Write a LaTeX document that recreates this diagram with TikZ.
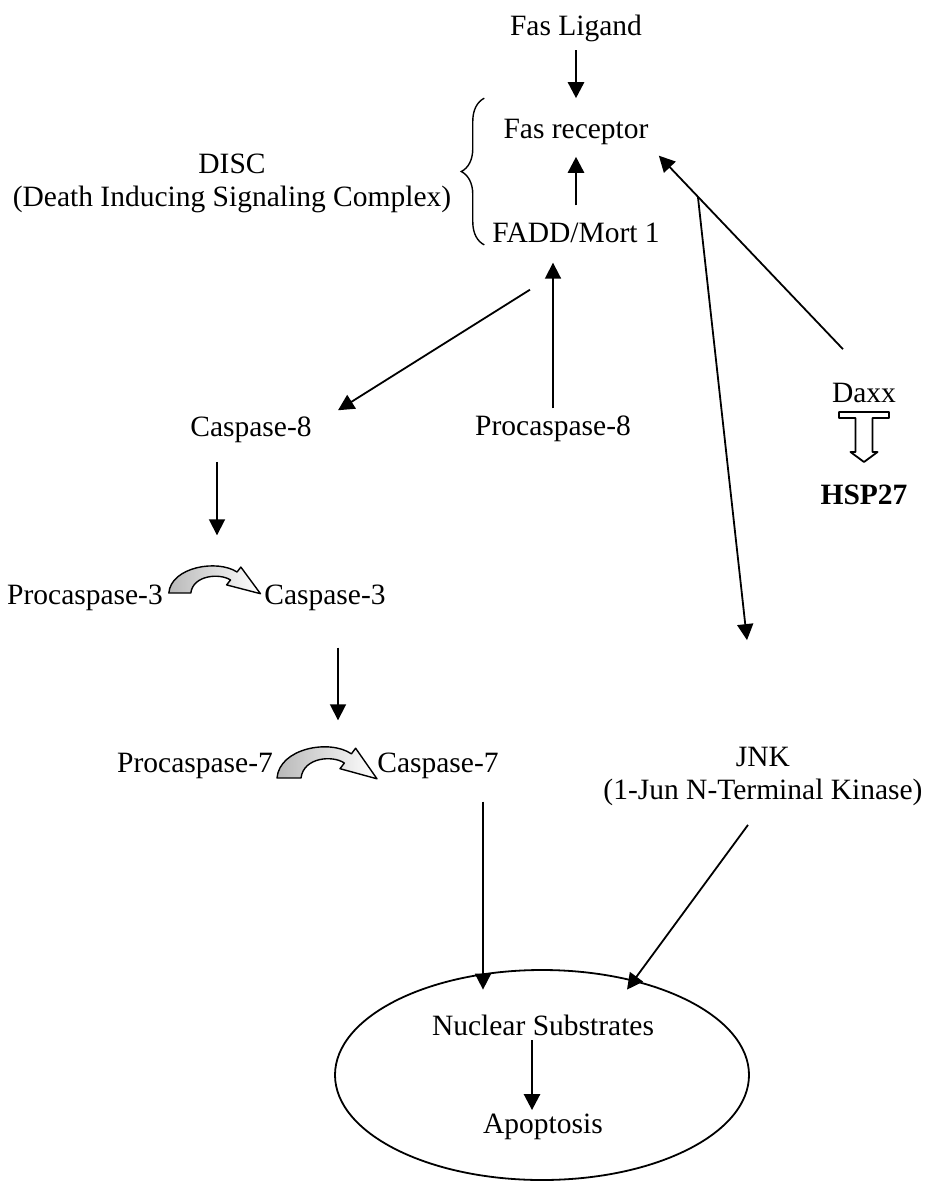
\documentclass[tikz,border=0pt]{standalone}
\usepackage{fontspec}
\setmainfont{Liberation Serif}
\usetikzlibrary{
	arrows.meta,
	calc,
	decorations.pathreplacing,
	positioning,
	shapes.geometric
}
\tikzset{
	arr/.style={-{Triangle[length=8pt, width=8pt]}, line width=0.9pt},
	thickarr/.style={arr, line width=1.3pt},
	protein/.style={inner sep=0pt, outer sep=0pt, align=center, font=\fontsize{14.75pt}{16.5pt}\selectfont},
	discbrace/.style={decorate, decoration={brace, amplitude=11.5pt}, line width=0.7pt},
	blockarrow/.style={draw, fill=white, line width=0.9pt, line join=round},
	cleave/.pic={
		\draw[line width=0.7pt, line join=round, left color=gray!55, right color=white]
			(0,0) .. controls (1,-13) and (22,-17) .. (31,-10.5)
			-- (32.75,-12.96) -- (41.65,0.35) -- (26.25,-4.05) -- (28.05,-6.5)
			.. controls (23.2,-10.04) and (11,-9) .. (10,0) -- cycle;
	}
}

\begin{document}
\begin{tikzpicture}[x=1pt, y=-1pt, on grid]
	\useasboundingbox (0,0) rectangle (462.5,591);

	\node[protein] (ligand) at (288,14) {Fas Ligand};
	\node[protein, below = 52pt of ligand] (receptor) {Fas receptor};
	\node[protein, below = 50.5pt of receptor] (fadd) {FADD/Mort 1};
	\node[protein] (disc) at (116,91.75) {DISC\\(Death Inducing Signaling Complex)};
	\node[protein] (casp8) at (125.5,215) {Caspase-8};
	\node[protein] (procasp8) at (276.5,214.5) {Procaspase-8};
	\node[protein] (daxx) at (432,196.5) {Daxx};
	\node[protein, below = 51pt of daxx] (hsp) {\bfseries HSP27};
	\node[protein] (procasp3) at (42.5,299) {Procaspase-3};
	\node[protein, right = 120pt of procasp3] (casp3) {Caspase-3};
	\node[protein] (procasp7) at (97.5,383) {Procaspase-7};
	\node[protein, right = 121.5pt of procasp7] (casp7) {Caspase-7};
	\node[protein] (jnk) at (381.5,388) {JNK\\(1-Jun N-Terminal Kinase)};
	\node[draw, ellipse, line width=0.9pt, inner sep=0pt, minimum width=207pt, minimum height=105pt] (nucleus) at (271,537.5) {};
	\node[protein] (substrates) at (271.5,512.5) {Nuclear Substrates};
	\node[protein, below = 51pt of substrates] (apoptosis) {Apoptosis};

	\node[coordinate, below left = 23.4pt and 23pt of fadd.south] (out8) {};
	\node[coordinate, above right = 3.4pt and 13.2pt of casp8.north east] (in8) {};
	\node[coordinate, above left = 17pt and 10.5pt of daxx.north] (outdaxx) {};
	\node[coordinate, above left = 53.3pt and 8pt of jnk.north] (injnk) {};
	\node[coordinate, below left = 9.8pt and 7.5pt of jnk.south] (outjnk) {};
	\node[coordinate, above left = 12.5pt and 13.5pt of substrates.north east] (injnkn) {};
	\node[coordinate, below = 4.6pt of daxx.south] (daxxbar) {};
	\coordinate (branch) at ($(outdaxx)!0.746!(receptor.south east)$);

	% DISC
	\draw[discbrace] ($(fadd.south west)+(-4,1)$) -- ($(fadd.west |- receptor.north)+(-4,-10.5)$);

	\draw[thickarr, shorten <=4.4pt, shorten >=10.5pt] (ligand.south) -- (receptor.north);
	\draw[thickarr, shorten <=8.9pt, shorten >=6pt] (fadd.north) -- (receptor.south);
	\draw[arr, shorten <=3.9pt, shorten >=9.9pt] (procasp8.north) -- (procasp8.north |- fadd.south);
	\draw[arr] (out8) -- (in8);
	\draw[arr, shorten >=7.5pt] (outdaxx) -- (receptor.south east);
	\draw[arr] (branch) -- (injnk);
	\draw[arr, shorten <=9.4pt, shorten >=24.9pt] ([xshift=-17pt]casp8.south) -- ([xshift=-17pt]casp8.south |- casp3.north);
	\draw[arr, shorten <=18.4pt, shorten >=16.4pt] ([xshift=6.5pt]casp3.south) -- ([xshift=6.5pt]casp3.south |- casp7.north);
	\draw[arr, shorten <=11.4pt, shorten >=12.5pt] ([xshift=22.5pt]casp7.south) -- ([xshift=22.5pt]casp7.south |- substrates.north);
	\draw[arr] (outjnk) -- (injnkn);
	\draw[thickarr, shorten <=2.5pt, shorten >=2pt] ([xshift=-5.5pt]substrates.south) -- ([xshift=-5.5pt]substrates.south |- apoptosis.north);

	% Daxx to HSP27
	\draw[blockarrow] ($(daxxbar)+(-12.5,0)$) -- ++(25,0) -- ++(0,3) -- ++(-8.25,0) -- ++(0,17) -- ++(2.5,0)
		-- ++(-6.75,5) -- ++(-6.75,-5) -- ++(2.5,0) -- ++(0,-17) -- ++(-8.25,0) -- cycle;

	% cleavage
	\pic[xscale=1.1] at ([shift={(3,-2.5)}]procasp3.east) {cleave};
	\pic[xscale=1.2, yscale=1.15] at ([shift={(2.1,6)}]procasp7.east) {cleave};
\end{tikzpicture}
\end{document}
